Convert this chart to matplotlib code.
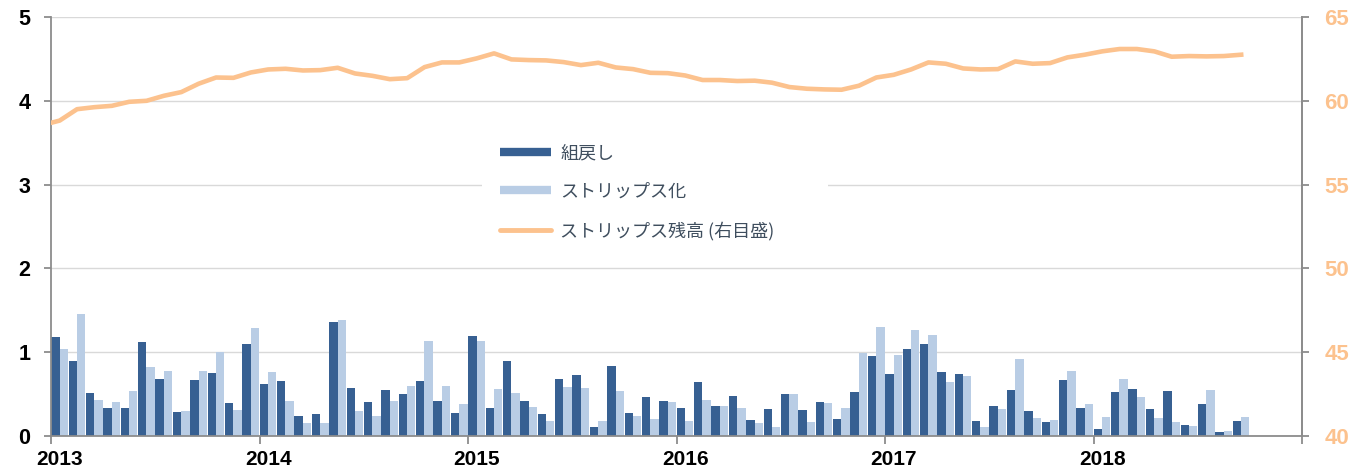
import numpy as np
import matplotlib
matplotlib.use("Agg")
import matplotlib.pyplot as plt
from matplotlib.lines import Line2D
from matplotlib.patches import Rectangle

# -------------------------------
# data (monthly, 2013-01 .. 2018-09)
# -------------------------------
year_labels = ["2013", "2014", "2015", "2016", "2017", "2018"]

reconstitution = [  # 組戻し
    1.18, 0.90, 0.51, 0.34, 0.34, 1.12, 0.68, 0.29, 0.67, 0.75, 0.39, 1.10,
    0.62, 0.66, 0.24, 0.26, 1.36, 0.57, 0.40, 0.55, 0.50, 0.66, 0.42, 0.27,
    1.19, 0.33, 0.90, 0.42, 0.26, 0.68, 0.73, 0.11, 0.84, 0.27, 0.46, 0.42,
    0.34, 0.65, 0.36, 0.48, 0.19, 0.32, 0.50, 0.31, 0.40, 0.20, 0.52, 0.96,
    0.74, 1.04, 1.10, 0.76, 0.74, 0.18, 0.36, 0.55, 0.30, 0.17, 0.67, 0.34,
    0.08, 0.52, 0.56, 0.32, 0.54, 0.13, 0.38, 0.05, 0.18,
]
stripping = [  # ストリップス化
    1.04, 1.45, 0.43, 0.41, 0.54, 0.82, 0.78, 0.30, 0.77, 1.00, 0.31, 1.29,
    0.76, 0.42, 0.16, 0.15, 1.39, 0.30, 0.24, 0.42, 0.60, 1.13, 0.60, 0.38,
    1.13, 0.56, 0.51, 0.35, 0.18, 0.58, 0.57, 0.18, 0.54, 0.24, 0.20, 0.40,
    0.18, 0.43, 0.36, 0.33, 0.15, 0.11, 0.50, 0.17, 0.39, 0.33, 0.99, 1.30,
    0.97, 1.26, 1.20, 0.64, 0.72, 0.11, 0.32, 0.92, 0.22, 0.19, 0.78, 0.38,
    0.23, 0.68, 0.47, 0.22, 0.17, 0.12, 0.55, 0.06, 0.23,
]
# ストリップス残高 (right axis), 2012-12 .. 2018-09
outstanding = [
    58.55,
    58.82, 59.50, 59.62, 59.70, 59.94, 60.00, 60.30, 60.52, 61.02, 61.39, 61.37, 61.69,
    61.87, 61.91, 61.81, 61.83, 61.97, 61.63, 61.49, 61.29, 61.35, 62.01, 62.29, 62.29,
    62.53, 62.83, 62.47, 62.43, 62.41, 62.31, 62.13, 62.27, 61.99, 61.89, 61.67, 61.65,
    61.51, 61.24, 61.24, 61.18, 61.20, 61.08, 60.82, 60.72, 60.68, 60.66, 60.90, 61.39,
    61.55, 61.87, 62.29, 62.21, 61.93, 61.87, 61.89, 62.35, 62.21, 62.25, 62.59, 62.75,
    62.95, 63.09, 63.09, 62.95, 62.63, 62.67, 62.65, 62.67, 62.75,
]

labels = ["組戻し", "ストリップス化", "ストリップス残高 (右目盛)"]

# -------------------------------
# style
# -------------------------------
DARK = "#376092"
LIGHT = "#B9CDE5"
ORANGE = "#FCC28E"
GRID = "#D9D9D9"
SPINE = "#8C8C8C"
TICKFONT = "Liberation Sans"
CJK = ["Noto Sans CJK JP", "DejaVu Sans"]

W, H = 1367, 476
fig = plt.figure(figsize=(W / 100, H / 100), dpi=100)
ax = fig.add_axes([51 / W, (H - 436) / H, (1302 - 51) / W, (436 - 17) / H])

n = len(reconstitution)
x = np.arange(n)
ax.bar(x + 0.25, reconstitution, width=0.485, color=DARK, zorder=2)
ax.bar(x + 0.735, stripping, width=0.485, color=LIGHT, zorder=2)

ax.set_xlim(0, 72)
ax.set_ylim(0, 5)
ax.set_yticks(range(0, 6))
# tick marks on year boundaries, labels centred on January
ax.set_xticks(range(0, 73, 12))
ax.set_xticklabels([""] * 7)
ax.set_xticks(np.arange(0, 72, 12) + 0.5, minor=True)
ax.set_xticklabels(year_labels, minor=True)
ax.grid(axis="y", color=GRID, linewidth=1.0)
ax.set_axisbelow(True)

for side in ["left", "bottom", "right"]:
    ax.spines[side].set_color(SPINE)
    ax.spines[side].set_linewidth(1.3)
ax.spines["top"].set_visible(False)
ax.tick_params(axis="y", length=5, width=1.3, color=SPINE, pad=10,
               labelsize=15.5, labelcolor="black")
ax.tick_params(axis="x", which="major", length=6, width=1.3, color=SPINE)
ax.tick_params(axis="x", which="minor", length=0, pad=10,
               labelsize=15, labelcolor="black")
for t in (ax.get_xticklabels(minor=True) + ax.get_yticklabels()):
    t.set_fontfamily(TICKFONT)
    t.set_fontweight("bold")

# right axis: outstanding
ax2 = ax.twinx()
ax2.set_ylim(40, 65)
ax2.set_yticks(range(40, 66, 5))
line_x = np.arange(len(outstanding)) - 0.5
ax2.plot(line_x, outstanding, color=ORANGE, linewidth=3.3,
         solid_joinstyle="round", zorder=3)
ax2.set_xlim(0, 72)
for side in ["left", "top", "bottom"]:
    ax2.spines[side].set_visible(False)
ax2.spines["right"].set_color(SPINE)
ax2.spines["right"].set_linewidth(1.3)
ax2.tick_params(axis="y", length=5, width=1.3, color=SPINE, pad=11,
                labelsize=16, labelcolor=ORANGE)
for t in ax2.get_yticklabels():
    t.set_fontfamily(TICKFONT)
    t.set_fontweight("bold")

# white box behind legend (hides the gridline)
fig.patches.append(Rectangle((482 / W, 1 - 252 / H), (828 - 482) / W, (252 - 132) / H,
                             transform=fig.transFigure, facecolor="white",
                             edgecolor="none", zorder=5))

handles = [
    Line2D([], [], color=DARK, linewidth=6, solid_capstyle="butt"),
    Line2D([], [], color=LIGHT, linewidth=6, solid_capstyle="butt"),
    Line2D([], [], color=ORANGE, linewidth=3.5, solid_capstyle="round"),
]
leg = fig.legend(handles, labels, loc="upper left",
                 bbox_to_anchor=(500 / W, 1 - 144 / H),
                 frameon=False, borderpad=0, borderaxespad=0,
                 handlelength=2.85, handletextpad=0.5, labelspacing=1.15,
                 prop={"family": CJK, "size": 13})
leg.set_zorder(6)
for t in leg.get_texts():
    t.set_color("#3F4E5E")

fig.savefig("out.png", dpi=100)
